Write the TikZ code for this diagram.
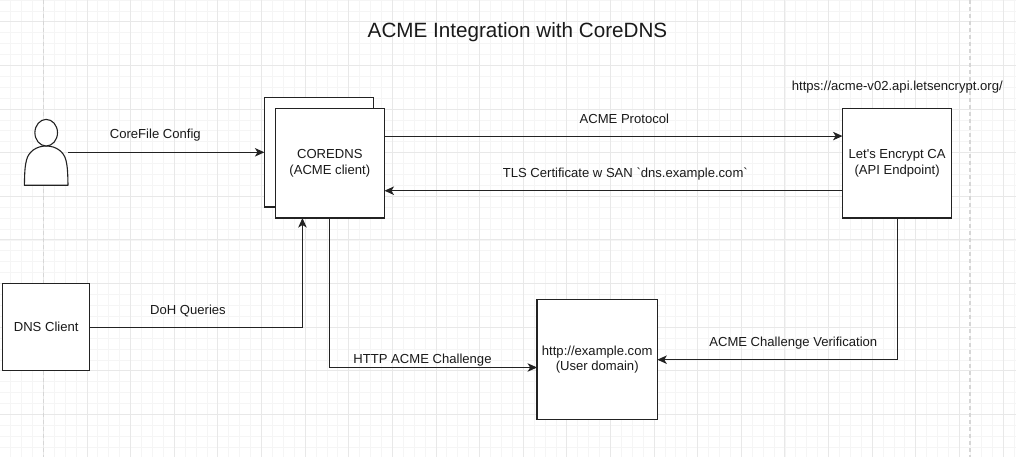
\documentclass[tikz,border=0pt]{standalone}
\usepackage{fontspec}
\newfontfamily\plainsans{Liberation Sans}
\usetikzlibrary{arrows.meta,calc}
\definecolor{gridmajor}{HTML}{E8E8E8}
\definecolor{gridminor}{HTML}{F5F5F5}
\definecolor{pagebreak}{HTML}{D6D6D6}
\definecolor{inkc}{HTML}{1A1A1A}
\definecolor{linec}{HTML}{222222}
\tikzset{
  x=1bp,y=-1bp,
  every node/.style={font=\plainsans\fontsize{13.08bp}{15.4bp}\selectfont,text=inkc},
  boxnode/.style={draw=linec,fill=white,line width=1.15bp,inner sep=0pt,outer sep=0pt,align=center},
  labelnode/.style={inner sep=0pt,outer sep=0pt,align=center},
  link/.style={draw=linec,line width=1.1bp,-{Stealth[length=9.5bp,width=8.5bp,inset=2.6bp]}},
  minorline/.style={draw=gridminor,line width=0.9bp},
  majorline/.style={draw=gridmajor,line width=1bp},
  pageline/.style={draw=pagebreak,line width=1.3bp,dash pattern=on 4bp off 3bp},
  personline/.style={draw=linec,fill=white,line width=1.1bp,line join=round}
}
\begin{document}
\begin{tikzpicture}
\useasboundingbox (0,0) rectangle (1016,457);
\fill[white] (0,0) rectangle (1016,457);
% grid
\foreach \k in {0,...,93} {\draw[minorline] ({-0.2+\k*10.905},0) -- ({-0.2+\k*10.905},457);}
\foreach \k in {-2,...,41} {\draw[minorline] (0,{21.9+\k*10.905}) -- (1016,{21.9+\k*10.905});}
\foreach \k in {0,...,23} {\draw[majorline] ({-0.2+\k*43.62},0) -- ({-0.2+\k*43.62},457);}
\foreach \k in {0,...,10} {\draw[majorline] (0,{21.9+\k*43.62}) -- (1016,{21.9+\k*43.62});}
\draw[pageline] (43.4,0) -- (43.4,457);
\draw[pageline] (970,0) -- (970,457);
% boxes
\node[boxnode,minimum width=109.2bp,minimum height=109.3bp] (back) at (319,152.3) {};
\node[boxnode,minimum width=109.4bp,minimum height=109.3bp] (front) at (329.8,163.4) {\raisebox{-1.8bp}{\begin{tabular}{@{}c@{}}COREDNS\\(ACME client)\end{tabular}}};
\node[boxnode,minimum width=109.2bp,minimum height=109.3bp] (ca) at (897.1,163.4) {\raisebox{-1.8bp}{\begin{tabular}{@{}c@{}}Let's Encrypt CA\\(API Endpoint)\end{tabular}}};
\node[boxnode,minimum width=87.4bp,minimum height=87.2bp] (client) at (46.2,327.1) {\raisebox{-1.5bp}{DNS Client}};
\node[boxnode,minimum width=120.3bp,minimum height=120bp] (site) at (597.2,359.7) {\raisebox{-1.8bp}{\begin{tabular}{@{}c@{}}http://example.com\\(User domain)\end{tabular}}};
% person
\node[inner sep=0pt,outer sep=0pt,minimum width=43.6bp,minimum height=66bp] (person) at (46.2,152.3) {};
\draw[personline] (24.4,185.3) .. controls (24.6,172) and (25,166) .. (26.5,160)
  .. controls (28.5,152) and (36,146) .. (46.2,146)
  .. controls (56.4,146) and (63.9,152) .. (65.9,160)
  .. controls (67.4,166) and (67.8,172) .. (68,185.3) -- cycle;
\draw[personline] (46.2,132.7) ellipse [x radius=11.3,y radius=13.3];
% free ends
\coordinate (sitein) at ($(site.west)+(0,7.8)$);
\coordinate (frontlow) at ($(front.south west)!0.25!(front.south east)$);
\coordinate (fronttop) at ($(front.north east)!0.25!(front.south east)$);
\coordinate (frontbot) at ($(front.north east)!0.75!(front.south east)$);
\coordinate (catop) at ($(ca.north west)!0.25!(ca.south west)$);
\coordinate (cabot) at ($(ca.north west)!0.75!(ca.south west)$);
% connectors
\draw[link] (person.east) -- (back.west);
\draw[link] (fronttop) -- (catop);
\draw[link] (cabot) -- (frontbot);
\draw[link] (client.east) -| (frontlow);
\draw[link] (front.south) |- (sitein);
\draw[link] (ca.south) |- (site.east);
% labels
\node[labelnode,font=\plainsans\fontsize{20.65bp}{25bp}\selectfont] (title) at (517.5,32.5) {ACME Integration with CoreDNS};
\node[labelnode] (url) at (897.3,87) {https://acme-v02.api.letsencrypt.org/};
\node[labelnode] (lcore) at (155.3,135) {CoreFile Config};
\node[labelnode] (lacme) at (624.3,119) {ACME Protocol};
\node[labelnode] (ltls) at (625.3,174) {TLS Certificate w SAN `dns.example.com`};
\node[labelnode] (ldoh) at (188,311) {DoH Queries};
\node[labelnode] (lhttp) at (422.5,360) {HTTP ACME Challenge};
\node[labelnode] (lver) at (793.3,343.5) {ACME Challenge Verification};
\end{tikzpicture}
\end{document}
